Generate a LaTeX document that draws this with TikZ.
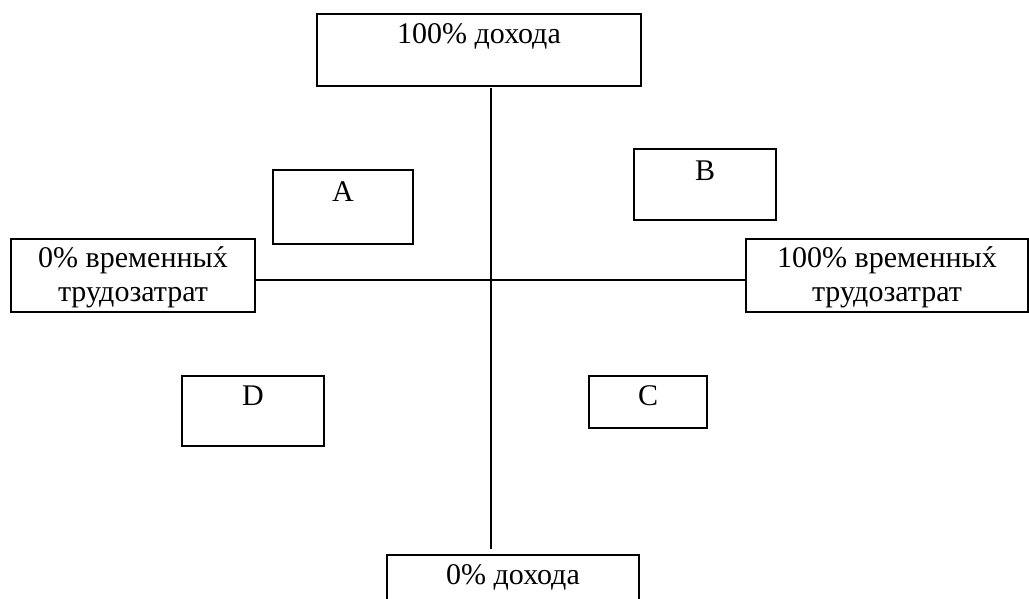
\documentclass[tikz,border=0pt]{standalone}
\usepackage{fontspec}
\setmainfont{Liberation Serif}
\newcommand{\accx}{\accent"00B4 х}
\begin{document}
\begin{tikzpicture}[x=1pt,y=-1pt,
  box/.style={draw, line width=2pt, inner sep=0pt, anchor=north west},
  lbl/.style={anchor=base, inner sep=0pt, font=\fontsize{30}{34}\selectfont, align=center},
  axis/.style={line width=1.6pt}]
\useasboundingbox (0,0) rectangle (1029,598);
\clip (0,0) rectangle (1029,598);
\fill[white] (0,0) rectangle (1029,598);
% axis end boxes
\node[box, minimum width=324pt, minimum height=72pt] (top) at (316,13) {};
\node[lbl] (toptext) at ([yshift=-30pt]top.north) {100\% дохода};
\node[box, minimum width=252pt, minimum height=72pt] (bottom) at (386,554) {};
\node[lbl] (bottomtext) at ([yshift=-30pt]bottom.north) {0\% дохода};
\node[box, minimum width=244pt, minimum height=73pt] (left) at (10,238) {};
\node[lbl] (lefttext) at ([yshift=-63pt]left.north) {0\% временны\accx\\трудозатрат};
\node[box, minimum width=282pt, minimum height=73pt] (right) at (745,238) {};
\node[lbl] (righttext) at ([yshift=-63pt]right.north) {100\% временны\accx\\трудозатрат};
% quadrant boxes
\node[box, minimum width=140pt, minimum height=74pt] (A) at (272,169) {};
\node[lbl] (Atext) at ([yshift=-32pt]A.north) {A};
\node[box, minimum width=142pt, minimum height=71pt] (B) at (633,148) {};
\node[lbl] (Btext) at ([yshift=-32pt]B.north) {B};
\node[box, minimum width=142pt, minimum height=70pt] (D) at (181,375) {};
\node[lbl] (Dtext) at ([yshift=-30pt]D.north) {D};
\node[box, minimum width=118pt, minimum height=52pt] (C) at (588,375) {};
\node[lbl] (Ctext) at ([yshift=-30pt]C.north) {C};
% axes
\coordinate (vtop) at (491,88);
\coordinate (vbot) at (491,549);
\draw[axis] (vtop) -- (vbot);
\draw[axis] ([yshift=-4.5pt]left.east) -- ([yshift=-4.5pt]right.west);
\end{tikzpicture}
\end{document}
